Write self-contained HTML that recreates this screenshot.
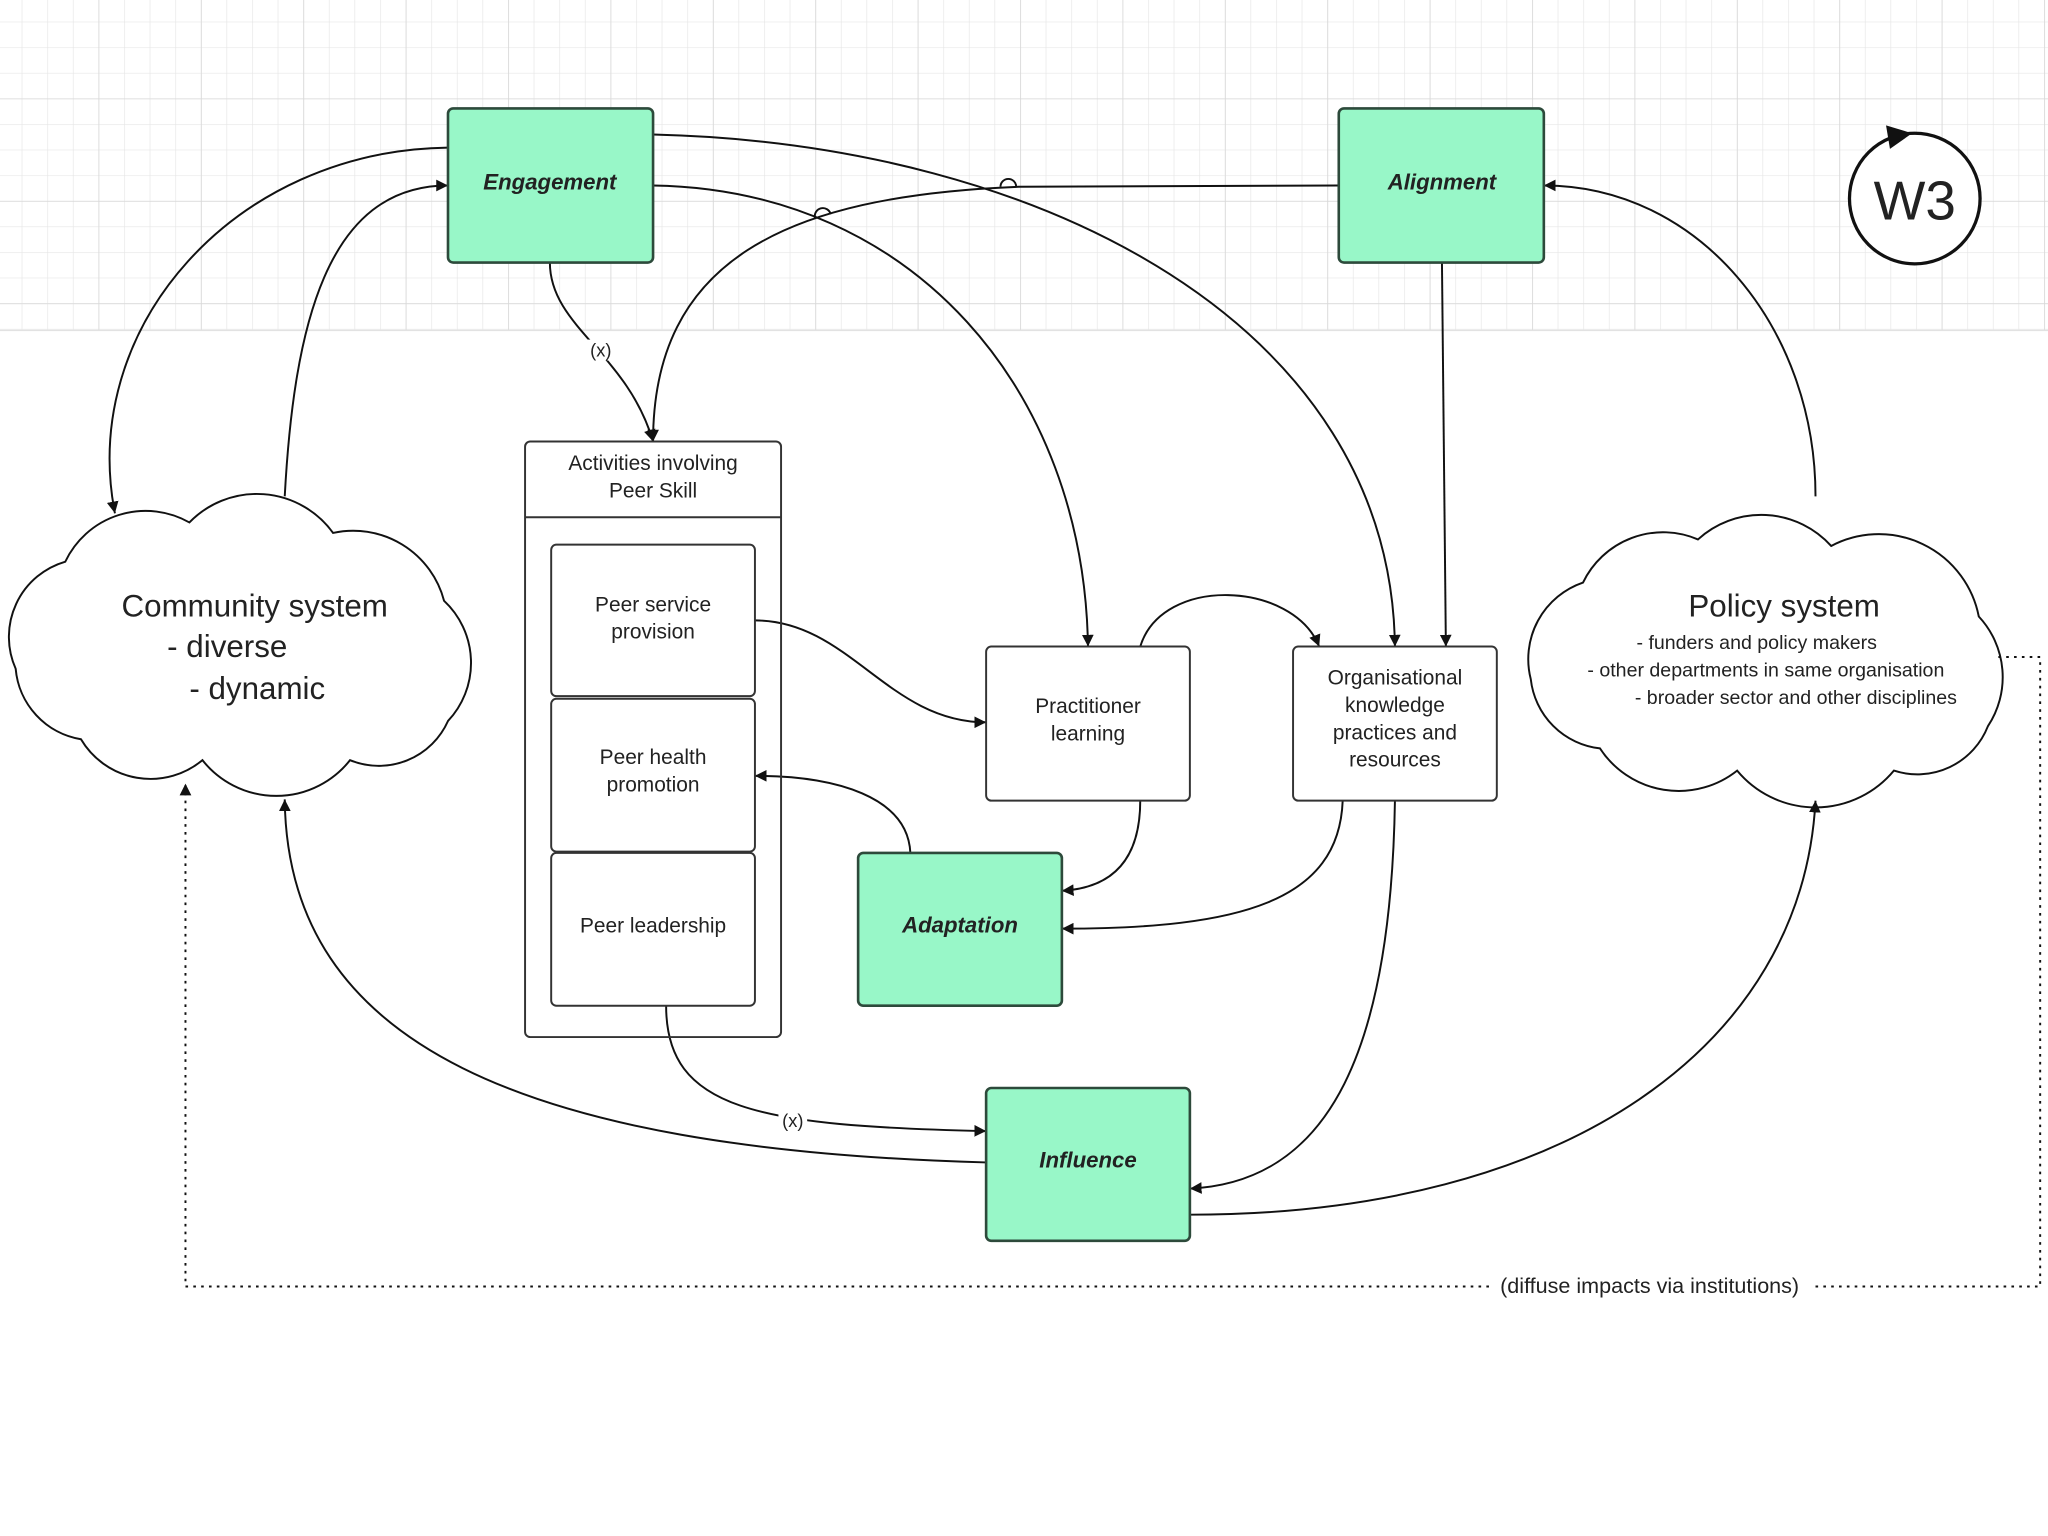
<!DOCTYPE html>
<html><head><meta charset="utf-8"><style>
html,body{margin:0;padding:0;background:#fff}
svg{display:block}
text{font-family:"Liberation Sans",sans-serif;fill:#222}
</style></head><body>
<svg width="2048" height="1536" viewBox="0 0 1568 1176" xmlns="http://www.w3.org/2000/svg">
<defs>
<pattern id="g" x="16.6" y="16.6" width="19.6" height="19.6" patternUnits="userSpaceOnUse">
<path d="M0,0 H19.6 M0,0 V19.6" stroke="#e6e6e6" stroke-width="1" fill="none"/>
</pattern>
<pattern id="G" x="75.4" y="75.4" width="78.4" height="78.4" patternUnits="userSpaceOnUse">
<path d="M0,0 H78.4 M0,0 V78.4" stroke="#d8d8d8" stroke-width="1.2" fill="none"/>
</pattern>
<marker id="a" viewBox="0 0 10 10" refX="10" refY="5" markerWidth="9" markerHeight="9" markerUnits="userSpaceOnUse" orient="auto"><path d="M0,0 L10,5 L0,10 z" fill="#111"/></marker>
</defs>
<rect x="0" y="0" width="1568" height="253" fill="url(#g)"/>
<rect x="0" y="0" width="1568" height="253" fill="url(#G)"/>
<line x1="0" y1="253" x2="1568" y2="253" stroke="#e2e2e2"/>

<!-- clouds -->
<path d="M12,512 A60,60 0 0 1 50,430 A68,68 0 0 1 145,400 A72,72 0 0 1 255,408 A72,72 0 0 1 340,460 A65,65 0 0 1 343,552 A58,58 0 0 1 268,582 A72,72 0 0 1 155,582 A62,62 0 0 1 62,566 A60,60 0 0 1 12,512 Z" fill="#fff" stroke="#111" stroke-width="1.5"/>
<path d="M1172,520 A62,62 0 0 1 1212,446 A68,68 0 0 1 1300,413 A72,72 0 0 1 1402,418 A78,78 0 0 1 1515,472 A68,68 0 0 1 1522,556 A58,58 0 0 1 1450,590 A78,78 0 0 1 1330,590 A72,72 0 0 1 1225,573 A60,60 0 0 1 1172,520 Z" fill="#fff" stroke="#111" stroke-width="1.5"/>

<g fill="none" stroke="#111" stroke-width="1.5">
<path d="M343,113 C180,115 60,250 88,393" marker-end="url(#a)"/>
<path d="M218,380 C225,250 250,142 343,142" marker-end="url(#a)"/>
<path d="M421,201 C421,250 480,270 500,338" marker-end="url(#a)"/>
<path d="M500,142 C700,145 830,300 833,495" marker-end="url(#a)"/>
<path d="M500,103 C800,110 1065,250 1068,495" marker-end="url(#a)"/>
<path d="M1025,142 L780,143 C600,150 500,200 500,338" marker-end="url(#a)"/>
<path d="M1104,201 L1107,495" marker-end="url(#a)"/>
<path d="M1390,380 C1390,250 1300,142 1182,142" marker-end="url(#a)"/>
<path d="M578,475 C650,475 680,553 755,553" marker-end="url(#a)"/>
<path d="M873,495 C890,440 990,445 1010,495" marker-end="url(#a)"/>
<path d="M873,613 C873,660 850,680 813,682" marker-end="url(#a)"/>
<path d="M1028,613 C1025,690 950,711 813,711" marker-end="url(#a)"/>
<path d="M697,653 C695,610 640,594 578,594" marker-end="url(#a)"/>
<path d="M510,770 C510,850 580,862 755,866" marker-end="url(#a)"/>
<path d="M755,890 C400,880 220,800 218,612" marker-end="url(#a)"/>
<path d="M1068,613 C1065,800 1020,905 911,910" marker-end="url(#a)"/>
<path d="M911,930 C1200,930 1380,800 1390,613" marker-end="url(#a)"/>
<path d="M1530,503 H1562 V985 H142 V600" stroke-dasharray="2,4" marker-end="url(#a)"/>
<path d="M766,143 A6,6 0 0 1 778,143"/>
<path d="M624,167 A6,6 0 0 1 636,164"/>
</g>
<rect x="449" y="260" width="22" height="16" fill="#fff"/>
<text x="460" y="273" font-size="14" text-anchor="middle">(x)</text>
<rect x="596" y="850" width="22" height="16" fill="#fff"/>
<text x="607" y="863" font-size="14" text-anchor="middle">(x)</text>
<rect x="1140" y="976" width="248" height="18" fill="#fff"/>
<text x="1263" y="990" font-size="16.5" text-anchor="middle">(diffuse impacts via institutions)</text>

<text x="195" y="472" font-size="24" text-anchor="middle">Community system</text>
<text x="128" y="503" font-size="24">- diverse</text>
<text x="145" y="535" font-size="24">- dynamic</text>
<text x="1366" y="472" font-size="24" text-anchor="middle">Policy system</text>
<text x="1345" y="497" font-size="15" text-anchor="middle">- funders and policy makers</text>
<text x="1352" y="518" font-size="15" text-anchor="middle">- other departments in same organisation</text>
<text x="1375" y="539" font-size="15" text-anchor="middle">- broader sector and other disciplines</text>

<!-- W3 -->
<circle cx="1466" cy="152" r="50" fill="#fff" stroke="#111" stroke-width="2.5"/>
<path d="M1444,96 l20,6 l-17,12 z" fill="#111"/>
<text x="1466" y="168" font-size="42" text-anchor="middle">W3</text>

<!-- green boxes -->
<g fill="#98f7c8" stroke="#2d4a3b" stroke-width="2">
<rect x="343" y="83" width="157" height="118" rx="4"/>
<rect x="1025" y="83" width="157" height="118" rx="4"/>
<rect x="657" y="653" width="156" height="117" rx="4"/>
<rect x="755" y="833" width="156" height="117" rx="4"/>
</g>
<g font-size="17" font-weight="bold" font-style="italic" text-anchor="middle">
<text x="421" y="145">Engagement</text>
<text x="1104" y="145">Alignment</text>
<text x="735" y="714">Adaptation</text>
<text x="833" y="894">Influence</text>
</g>

<!-- white boxes -->
<g fill="#fff" stroke="#333" stroke-width="1.5">
<rect x="402" y="338" width="196" height="456" rx="4" fill="none"/>
<line x1="402" y1="396" x2="598" y2="396"/>
<rect x="422" y="417" width="156" height="116" rx="4"/>
<rect x="422" y="535" width="156" height="117" rx="4"/>
<rect x="422" y="653" width="156" height="117" rx="4"/>
<rect x="755" y="495" width="156" height="118" rx="4"/>
<rect x="990" y="495" width="156" height="118" rx="4"/>
</g>
<g font-size="16" text-anchor="middle">
<text x="500" y="360">Activities involving</text>
<text x="500" y="381">Peer Skill</text>
<text x="500" y="468">Peer service</text>
<text x="500" y="489">provision</text>
<text x="500" y="585">Peer health</text>
<text x="500" y="606">promotion</text>
<text x="500" y="714">Peer leadership</text>
<text x="833" y="546">Practitioner</text>
<text x="833" y="567">learning</text>
<text x="1068" y="524">Organisational</text>
<text x="1068" y="545">knowledge</text>
<text x="1068" y="566">practices and</text>
<text x="1068" y="587">resources</text>
</g>
</svg>
</body></html>
